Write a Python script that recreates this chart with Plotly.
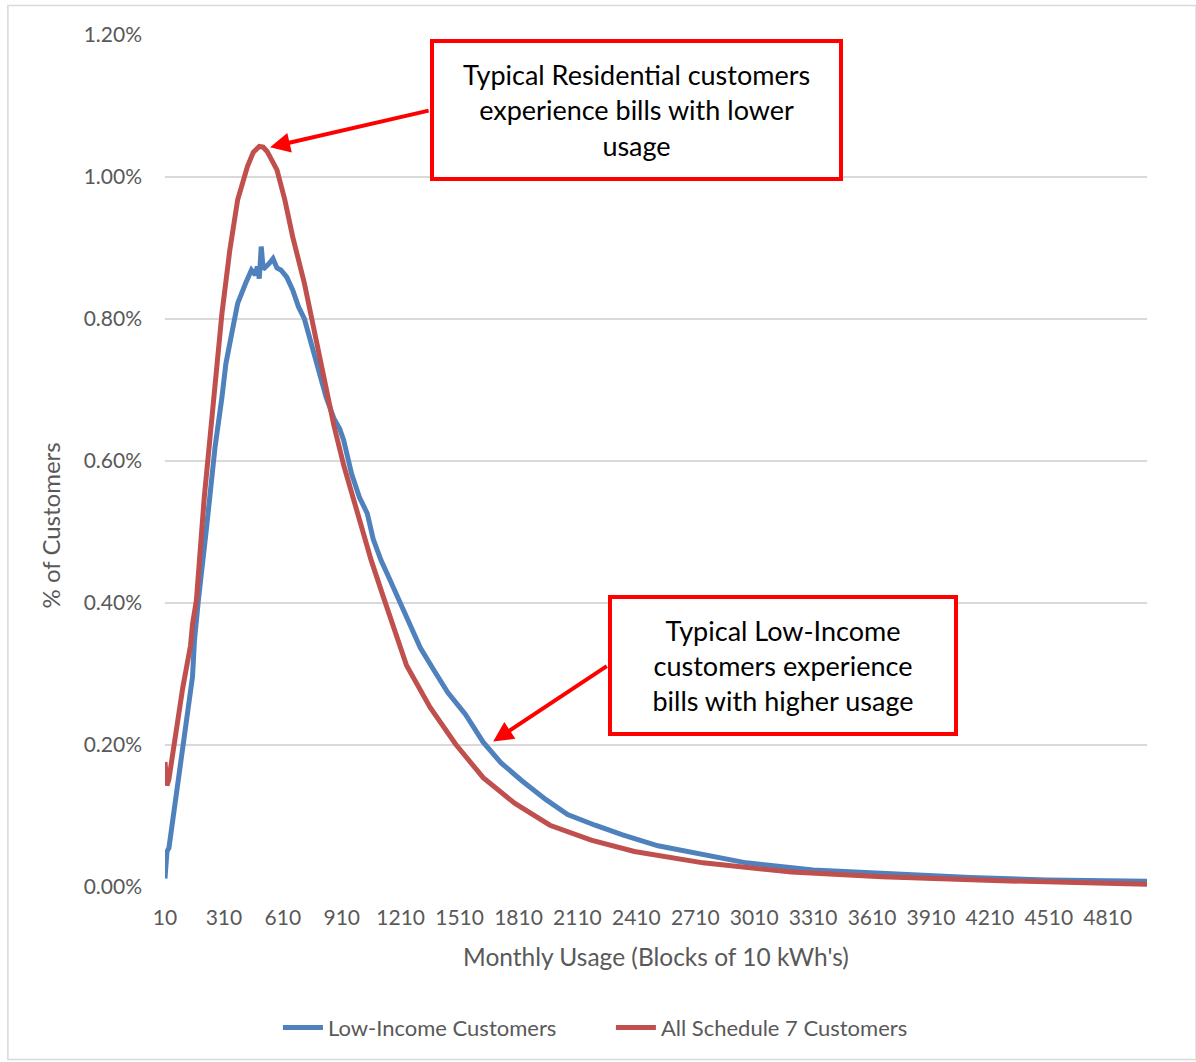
import plotly.graph_objects as go

# Monthly usage blocks (kWh) and share of customers, Low-Income customers
low_income_usage = [10, 20, 30, 40, 50, 60, 70, 80, 95, 110, 130, 150, 160, 170, 180,
                    220, 265, 300, 320, 350, 380, 420, 450, 470, 480, 490, 500, 510,
                    520, 540, 560, 580, 600, 630, 660, 690, 720, 760, 790, 830, 870,
                    900, 920, 960, 1000, 1040, 1070, 1110, 1150, 1200, 1250, 1310,
                    1380, 1450, 1540, 1630, 1720, 1830, 1950, 2060, 2200, 2340, 2520,
                    2750, 2970, 3310, 3660, 4110, 4500, 5010]
low_income_share = [0.00012, 0.00050, 0.00055, 0.00075, 0.00098, 0.00115, 0.00131,
                    0.00150, 0.00183, 0.00206, 0.00249, 0.00296, 0.00347, 0.00376,
                    0.00404, 0.00502, 0.00620, 0.00690, 0.00737, 0.00780, 0.00822,
                    0.00850, 0.00869, 0.00862, 0.00874, 0.00857, 0.00902, 0.00870,
                    0.00872, 0.00878, 0.00885, 0.00872, 0.00869, 0.00859, 0.00841,
                    0.00817, 0.00800, 0.00761, 0.00730, 0.00690, 0.00660, 0.00645,
                    0.00629, 0.00582, 0.00549, 0.00526, 0.00490, 0.00460, 0.00436,
                    0.00405, 0.00378, 0.00337, 0.00305, 0.00274, 0.00243, 0.00204,
                    0.00175, 0.00149, 0.00123, 0.00102, 0.00087, 0.000735, 0.00058,
                    0.00045, 0.00034, 0.00024, 0.000187, 0.000135, 0.00010, 0.00008]

# All Schedule 7 customers
all_usage = [10, 20, 30, 50, 70, 90, 100, 120, 140, 150, 170, 210, 260, 300, 340,
             380, 430, 460, 490, 510, 530, 580, 620, 660, 720, 770, 810, 870, 920,
             990, 1060, 1120, 1160, 1240, 1360, 1490, 1630, 1790, 1970, 2180, 2400,
             2750, 3200, 3660, 4230, 4600, 5010]
all_share = [0.00176, 0.00143, 0.00152, 0.00190, 0.00225, 0.00255, 0.00280, 0.00310,
             0.00340, 0.00370, 0.00404, 0.00549, 0.00690, 0.00808, 0.00897, 0.00968,
             0.01015, 0.01035, 0.01043, 0.01042, 0.01036, 0.01010, 0.00968, 0.00916,
             0.00850, 0.00785, 0.00725, 0.00650, 0.00594, 0.00525, 0.00460, 0.00410,
             0.00376, 0.00312, 0.00253, 0.00201, 0.00154, 0.00118, 0.00087, 0.00066,
             0.00050, 0.00034, 0.00021, 0.000145, 0.00009, 0.00006, 0.00004]

tick_values = list(range(10, 4811, 300))
tick_labels = [str(v) for v in tick_values]
y_ticks = [0, 0.002, 0.004, 0.006, 0.008, 0.010, 0.012]

BLUE = "#4f81bd"
RED = "#c0504d"
GREY_TEXT = "#595959"
FONT = "Lato, 'Open Sans', sans-serif"

fig = go.Figure()
fig.add_trace(go.Scatter(x=low_income_usage, y=low_income_share, mode="lines",
                         name="Low-Income Customers",
                         line=dict(color=BLUE, width=5)))
fig.add_trace(go.Scatter(x=all_usage, y=all_share, mode="lines",
                         name="All Schedule 7 Customers",
                         line=dict(color=RED, width=5)))

# Callout boxes
box_style = dict(showarrow=False, bgcolor="white", bordercolor="#ff0000",
                 borderwidth=4, borderpad=0, align="center",
                 font=dict(family=FONT, size=27, color="black"))
fig.add_annotation(x=2410, y=0.01094, width=405, height=134,
                   text="Typical Residential customers<br>experience bills with lower<br>usage",
                   **box_style)
fig.add_annotation(x=3159, y=0.003125, width=342, height=133,
                   text="Typical Low-Income<br>customers experience<br>bills with higher usage",
                   **box_style)

# Arrows from the boxes to the curves
arrow_style = dict(text="", showarrow=True, axref="x", ayref="y",
                   arrowhead=2, arrowsize=1.0, arrowwidth=4, arrowcolor="#ff0000")
fig.add_annotation(x=545, y=0.01042, ax=1360, ay=0.01094, **arrow_style)
fig.add_annotation(x=1681, y=0.00205, ax=2267, ay=0.003125, **arrow_style)

# Y-axis title, centred a little below the middle of the plot
fig.add_annotation(xref="paper", yref="paper", x=-0.117, y=0.4245,
                   text="% of Customers", textangle=-90, showarrow=False,
                   xanchor="center", yanchor="middle",
                   font=dict(family=FONT, size=24, color=GREY_TEXT))

# Outer chart frame
fig.add_shape(type="rect", xref="paper", yref="paper",
              x0=-0.16, x1=1.05, y0=-0.2026, y1=1.0347,
              line=dict(color="#d9d9d9", width=1.5), layer="below")

fig.update_layout(
    width=1196, height=1062,
    margin=dict(l=165, r=49, t=35, b=175, pad=0),
    paper_bgcolor="white", plot_bgcolor="white",
    font=dict(family=FONT, color=GREY_TEXT),
    showlegend=True,
    legend=dict(orientation="h", x=0.115, xanchor="left", y=-0.165, yanchor="middle",
                font=dict(family=FONT, size=22, color=GREY_TEXT),
                itemwidth=40, tracegroupgap=0, entrywidth=278),
)
fig.update_xaxes(range=[10, 5010], tickmode="array", tickvals=tick_values,
                 ticktext=tick_labels, showgrid=False, zeroline=False,
                 showline=False, ticks="", ticklabelstandoff=16,
                 tickfont=dict(family=FONT, size=21, color=GREY_TEXT),
                 title=dict(text="Monthly Usage (Blocks of 10 kWh's)",
                            font=dict(family=FONT, size=24.5, color=GREY_TEXT),
                            standoff=20))
fig.update_yaxes(range=[0, 0.012], tickmode="array", tickvals=y_ticks,
                 tickformat=".2%", showgrid=True, gridcolor="#d9d9d9", gridwidth=1.5,
                 zeroline=False, showline=False, ticks="", ticklabelstandoff=22,
                 tickfont=dict(family=FONT, size=21, color=GREY_TEXT))

fig.write_html("out.html")
